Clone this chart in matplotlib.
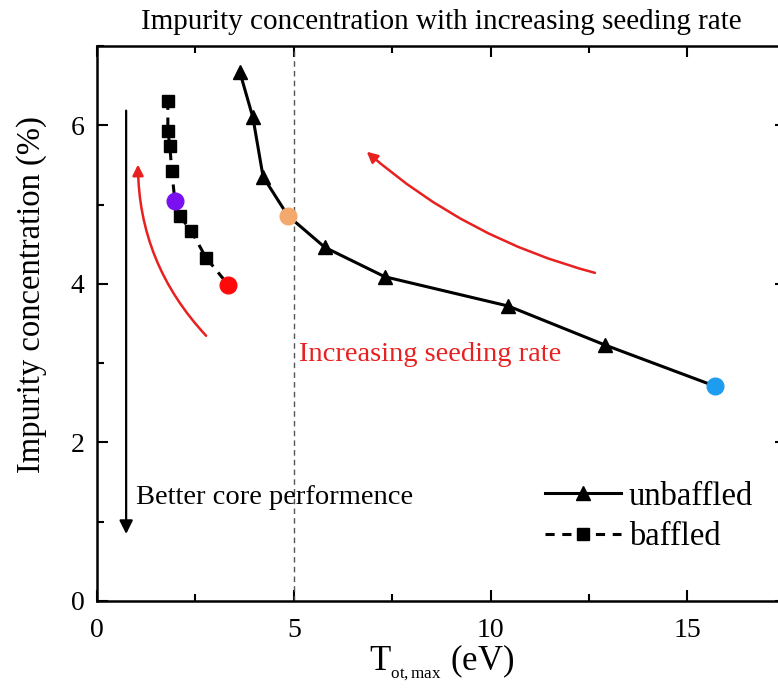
import matplotlib
matplotlib.use("Agg")
import matplotlib.pyplot as plt
from matplotlib.ticker import MultipleLocator

plt.rcParams['font.family'] = ['Liberation Serif', 'DejaVu Serif']
plt.rcParams['mathtext.fontset'] = 'custom'
plt.rcParams['mathtext.rm'] = 'Liberation Serif'
plt.rcParams['mathtext.it'] = 'Liberation Serif:italic'

# unbaffled case (triangles)
unbaffled_t = [3.63, 3.96, 4.22, 4.85, 5.79, 7.31, 10.45, 12.9, 15.7]
unbaffled_c = [6.67, 6.10, 5.35, 4.86, 4.46, 4.09, 3.72, 3.23, 2.71]

# baffled case (squares)
baffled_t = [1.80, 1.80, 1.85, 1.90, 1.98, 2.11, 2.39, 2.77, 3.33]
baffled_c = [6.31, 5.93, 5.74, 5.42, 5.04, 4.85, 4.67, 4.33, 3.99]

# highlighted cases
mark_t = [4.85, 15.7, 1.98, 3.33]
mark_c = [4.86, 2.71, 5.04, 3.99]
mark_col = ['#F2A96B', '#1E9CF0', '#7A10F0', '#FF0A0A']

fig = plt.figure(figsize=(7.78, 6.88), dpi=100)
ax = fig.add_axes([0.1247, 0.1265, 0.8853, 0.8066])

# points covered by the coloured circles get no own marker
ub_idx = [i for i, t in enumerate(unbaffled_t) if t not in mark_t]
b_idx = [i for i, t in enumerate(baffled_t) if t not in mark_t]

ax.plot(unbaffled_t, unbaffled_c, '-', color='black', lw=2.2, marker='^',
        ms=10, markevery=ub_idx, label='unbaffled')
ax.plot(baffled_t, baffled_c, '--', color='black', lw=2.2, marker='s',
        ms=8, dashes=(3, 2.5), markevery=b_idx, label='baffled')
for t, c, col in zip(mark_t, mark_c, mark_col):
    ax.plot(t, c, 'o', color=col, ms=12, zorder=5)

ax.axvline(5, color='#555555', lw=1, ls=(0, (4, 3)))

# black arrow
ax.annotate('', xy=(0.74, 0.81), xytext=(0.74, 6.22),
            arrowprops=dict(arrowstyle='-|>', color='black', lw=1.6,
                            mutation_scale=20))
ax.text(0.98, 1.31, 'Better core performence', fontsize=20.5, va='center')

# red arrows
ax.annotate('', xy=(1.04, 5.54), xytext=(2.82, 3.32),
            arrowprops=dict(arrowstyle='-|>', color='#E82020', lw=1.8,
                            mutation_scale=16,
                            connectionstyle='arc3,rad=-0.2'))
ax.annotate('', xy=(6.8, 5.69), xytext=(12.72, 4.13),
            arrowprops=dict(arrowstyle='-|>', color='#E82020', lw=1.8,
                            mutation_scale=16,
                            connectionstyle='arc3,rad=-0.12'))
ax.text(5.13, 3.11, 'Increasing seeding rate', fontsize=20.5,
        color='#E82020', va='center')

ax.set_xlim(0, 17.5)
ax.set_ylim(0, 7)
ax.xaxis.set_major_locator(MultipleLocator(5))
ax.xaxis.set_minor_locator(MultipleLocator(2.5))
ax.yaxis.set_major_locator(MultipleLocator(2))
ax.yaxis.set_minor_locator(MultipleLocator(1))
ax.tick_params(which='both', direction='in', top=True, right=True,
               labelsize=20, width=1.5)
ax.tick_params(which='major', length=8, pad=9)
ax.tick_params(axis='x', which='major', pad=12)
ax.tick_params(which='minor', length=5)
for s in ax.spines.values():
    s.set_linewidth(1.8)

ax.set_xlabel(r'T$_{_{\mathrm{ot,max}}}$ (eV)', fontsize=25, labelpad=0)
ax.set_ylabel('Impurity concentration (%)', fontsize=23.5)
ax.yaxis.set_label_coords(-0.073, 0.553)
ax.set_title('Impurity concentration with increasing seeding rate',
             fontsize=21, pad=12)

ax.legend(loc='lower right', bbox_to_anchor=(0.995, 0.035), frameon=False,
          fontsize=23.5, handlelength=2.3, handletextpad=0.25,
          labelspacing=0.3)

fig.savefig('out.png', dpi=100)
